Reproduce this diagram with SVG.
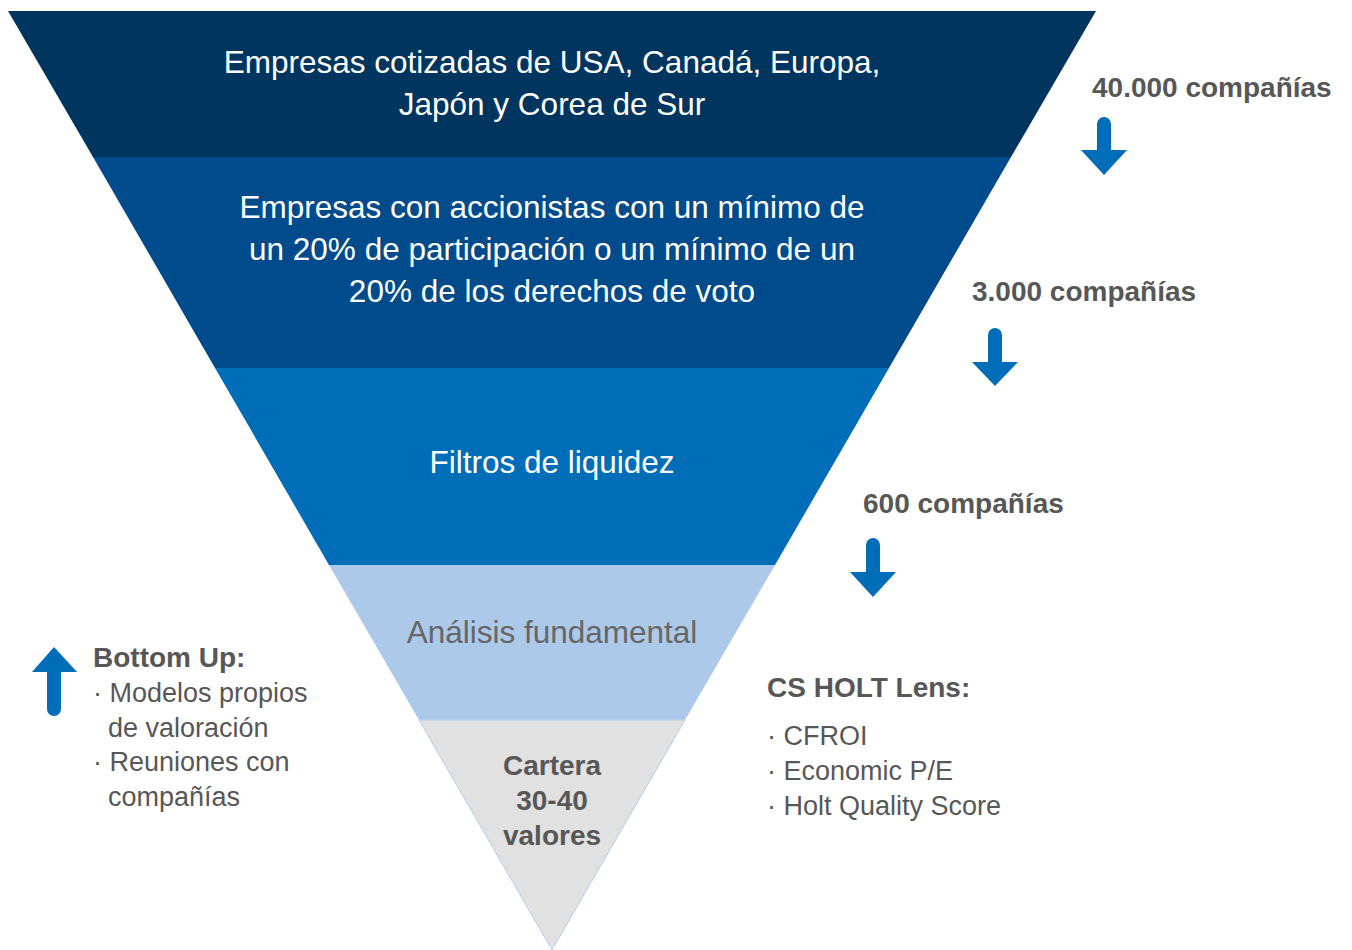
<svg xmlns="http://www.w3.org/2000/svg" width="1352" height="950" viewBox="0 0 1352 950">
<style>
.w{fill:#ffffff;font-family:"Liberation Sans",Arial,sans-serif;font-size:31.5px;text-anchor:middle}
.g{fill:#575757;font-family:"Liberation Sans",Arial,sans-serif;font-size:27px}
.b{font-weight:bold;font-size:28px}
.arr{fill:#006db8}
</style>
<rect width="1352" height="950" fill="#ffffff"/>
<g id="band1"><polygon points="8,11 1096,11 1011,157 93,157" fill="#003560"/>
<text class="w" x="552" y="73">Empresas cotizadas de USA, Canadá, Europa,</text>
<text class="w" x="552" y="115">Japón y Corea de Sur</text></g>
<g id="band2"><polygon points="93,157 1011,157 889,368 215,368" fill="#004b8b"/>
<text class="w" x="552" y="218">Empresas con accionistas con un mínimo de</text>
<text class="w" x="552" y="260">un 20% de participación o un mínimo de un</text>
<text class="w" x="552" y="302">20% de los derechos de voto</text></g>
<g id="band3"><polygon points="215,368 889,368 775,565 329,565" fill="#006db8"/>
<text class="w" x="552" y="473">Filtros de liquidez</text></g>
<g id="band4"><polygon points="329,565 775,565 685,720 419,720" fill="#adc9e9"/>
<text class="w" x="552" y="643" style="fill:#666666">Análisis fundamental</text></g>
<g id="band5"><polygon points="419,720 685,720 552,950" fill="#e1e1e1" stroke="#b8cde6" stroke-width="1"/>
<text class="g b" x="552" y="775" text-anchor="middle">Cartera</text>
<text class="g b" x="552" y="810" text-anchor="middle">30-40</text>
<text class="g b" x="552" y="845" text-anchor="middle">valores</text></g>
<g id="label40000"><text class="g b" x="1092" y="97">40.000 compañías</text>
<path class="arr" d="M1097,124 a7,7 0 0 1 14,0 V150 H1127 L1104,175 L1081,150 H1097 Z"/></g>
<g id="label3000"><text class="g b" x="972" y="301">3.000 compañías</text>
<path class="arr" d="M988,335 a7,7 0 0 1 14,0 V362 H1018 L995,386 L972,362 H988 Z"/></g>
<g id="label600"><text class="g b" x="863" y="513">600 compañías</text>
<path class="arr" d="M866,545 a7,7 0 0 1 14,0 V572 H896 L873,597 L850,572 H866 Z"/></g>
<g id="bottomup"><path class="arr" d="M47,709 a7,7 0 0 0 14,0 V672 H77 L54,647 L32,672 H47 Z"/>
<text class="g b" x="93" y="667">Bottom Up:</text>
<text class="g" x="93" y="702">· Modelos propios</text>
<text class="g" x="108" y="737">de valoración</text>
<text class="g" x="93" y="771">· Reuniones con</text>
<text class="g" x="108" y="806">compañías</text></g>
<g id="holt"><text class="g b" x="767" y="697">CS HOLT Lens:</text>
<text class="g" x="767" y="745">· CFROI</text>
<text class="g" x="767" y="780">· Economic P/E</text>
<text class="g" x="767" y="815">· Holt Quality Score</text></g>
<g id="connectors"></g>
</svg>
